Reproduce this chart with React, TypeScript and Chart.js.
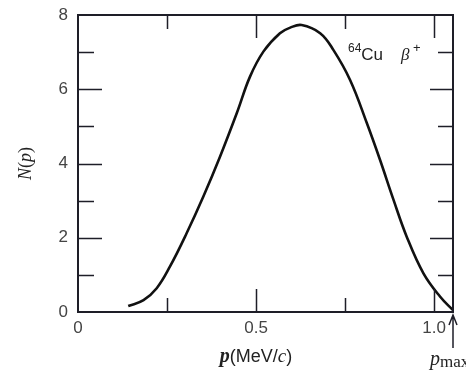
import React, { useEffect, useRef } from "react";
import { Chart, registerables } from "chart.js";

Chart.register(...registerables);

// Momentum p (MeV/c) and spectrum N(p) for 64Cu beta+ decay
const momentum = [0.141, 0.184, 0.221, 0.258, 0.305, 0.352, 0.399, 0.446, 0.483, 0.521, 0.567, 0.596, 0.628, 0.68, 0.717, 0.764, 0.811, 0.848, 0.886, 0.923, 0.97, 1.017, 1.053];
const spectrum = [0.16, 0.32, 0.64, 1.22, 2.12, 3.11, 4.19, 5.36, 6.34, 7.02, 7.51, 7.66, 7.73, 7.51, 7.06, 6.25, 5.09, 4.1, 3.02, 2.03, 1.04, 0.41, 0.05];
const xLabels = [0, 0.5, 1.0];
const yLabels = [0, 2, 4, 6, 8];
const pMax = 1.053;
const yMax = 8;

const SERIF = '"Liberation Serif", "DejaVu Serif", serif';
const SANS = '"Liberation Sans", Arial, sans-serif';

function drawRuns(ctx: CanvasRenderingContext2D, runs: { t: string; f: string; dy?: number }[], x: number, y: number, align: "left" | "center") {
  let total = 0;
  for (const r of runs) {
    ctx.font = r.f;
    total += ctx.measureText(r.t).width;
  }
  let cx = align === "center" ? x - total / 2 : x;
  ctx.textAlign = "left";
  for (const r of runs) {
    ctx.font = r.f;
    ctx.fillText(r.t, cx, y + (r.dy || 0));
    cx += ctx.measureText(r.t).width;
  }
}

const decor = {
  id: "decor",
  afterDraw(chart: any) {
    const ctx: CanvasRenderingContext2D = chart.ctx;
    const { left, right, top, bottom } = chart.chartArea;
    const xs = chart.scales.x;
    const ys = chart.scales.y;
    ctx.save();
    ctx.strokeStyle = "#1e1e28";
    ctx.lineWidth = 2;
    ctx.strokeRect(left, top, right - left, bottom - top);
    ctx.lineWidth = 1.5;
    ctx.beginPath();
    for (const t of xs.ticks) {
      const v = t.value;
      if (v <= 0 || v >= pMax) continue;
      const px = Math.round(xs.getPixelForValue(v)) + 0.5;
      const major = Math.abs(v * 2 - Math.round(v * 2)) < 1e-6;
      const len = major ? 23 : 14;
      ctx.moveTo(px, bottom);
      ctx.lineTo(px, bottom - len);
      ctx.moveTo(px, top);
      ctx.lineTo(px, top + len);
    }
    for (const t of ys.ticks) {
      const v = t.value;
      if (v <= 0 || v >= yMax) continue;
      const py = Math.round(ys.getPixelForValue(v)) + 0.5;
      const major = v % 2 === 0;
      ctx.moveTo(left, py);
      ctx.lineTo(left + (major ? 24 : 16), py);
      ctx.moveTo(right, py);
      ctx.lineTo(right - (major ? 23 : 15), py);
    }
    ctx.stroke();

    ctx.fillStyle = "#222";
    ctx.textBaseline = "alphabetic";
    // y title
    ctx.save();
    ctx.translate(31, (top + bottom) / 2);
    ctx.rotate(-Math.PI / 2);
    drawRuns(ctx, [
      { t: "N", f: `italic 18px ${SERIF}` },
      { t: "(", f: `18px ${SERIF}` },
      { t: "p", f: `italic 18px ${SERIF}` },
      { t: ")", f: `18px ${SERIF}` },
    ], 0, 0, "center");
    ctx.restore();
    // x title
    drawRuns(ctx, [
      { t: "p", f: `bold italic 20px ${SERIF}` },
      { t: "(MeV/", f: `18px ${SANS}` },
      { t: "c", f: `italic 19px ${SERIF}` },
      { t: ")", f: `18px ${SANS}` },
    ], xs.getPixelForValue(0.5), 362, "center");
    // annotation
    drawRuns(ctx, [
      { t: "64", f: `12px ${SANS}`, dy: -8 },
      { t: "Cu", f: `17px ${SANS}` },
    ], 348, 60, "left");
    drawRuns(ctx, [
      { t: "\u03B2", f: `italic 17px ${SERIF}` },
      { t: " +", f: `13px ${SANS}`, dy: -8 },
    ], 401, 60, "left");
    // p_max arrow
    const ax = xs.getPixelForValue(pMax);
    ctx.lineWidth = 1.5;
    ctx.beginPath();
    ctx.moveTo(ax, 348);
    ctx.lineTo(ax, bottom + 3);
    ctx.moveTo(ax - 4, bottom + 13);
    ctx.lineTo(ax, bottom + 3);
    ctx.lineTo(ax + 4, bottom + 13);
    ctx.stroke();
    drawRuns(ctx, [
      { t: "p", f: `italic 20px ${SERIF}` },
      { t: "max", f: `17px ${SERIF}`, dy: 2 },
    ], 430, 365, "left");
    ctx.restore();
  },
};

export default function App() {
  const ref = useRef<HTMLCanvasElement | null>(null);
  useEffect(() => {
    document.body.style.margin = "0";
    const canvas = ref.current!;
    const chart = new Chart(canvas, {
      type: "line",
      data: {
        datasets: [
          {
            data: momentum.map((p, i) => ({ x: p, y: spectrum[i] })),
            borderColor: "#111",
            borderWidth: 2.6,
            pointRadius: 0,
            tension: 0.4,
            fill: false,
            clip: false as any,
          },
        ],
      },
      options: {
        animation: false,
        responsive: false,
        devicePixelRatio: 1,
        layout: { padding: { top: 15, right: 13, left: 0, bottom: 0 } },
        plugins: { legend: { display: false }, tooltip: { enabled: false } },
        scales: {
          x: {
            type: "linear",
            min: 0,
            max: pMax,
            grid: { display: false, drawTicks: false },
            border: { display: false },
            ticks: {
              stepSize: 0.25,
              includeBounds: false,
              autoSkip: false,
              maxRotation: 0,
              padding: 6,
              color: "#444",
              font: { family: SANS, size: 17 },
              callback: (v: any) => {
                const n = Number(v);
                return xLabels.some((l) => Math.abs(l - n) < 1e-6) ? (n === 0 ? "0" : n.toFixed(1)) : "";
              },
            },
            afterFit: (s: any) => {
              s.height = 58;
              s.paddingLeft = 0;
              s.paddingRight = 0;
            },
          },
          y: {
            min: 0,
            max: yMax,
            grid: { display: false, drawTicks: false },
            border: { display: false },
            ticks: {
              stepSize: 1,
              autoSkip: false,
              padding: 10,
              color: "#444",
              font: { family: SANS, size: 17 },
              callback: (v: any) => (yLabels.includes(Number(v)) ? String(v) : ""),
            },
            afterFit: (s: any) => {
              s.width = 78;
              s.paddingTop = 0;
              s.paddingBottom = 0;
            },
          },
        },
      },
      plugins: [decor],
    });
    return () => chart.destroy();
  }, []);
  return (
    <div style={{ position: "fixed", left: 0, top: 0, width: 466, height: 370, background: "#fff" }}>
      <canvas ref={ref} width={466} height={370} style={{ display: "block" }} />
    </div>
  );
}
